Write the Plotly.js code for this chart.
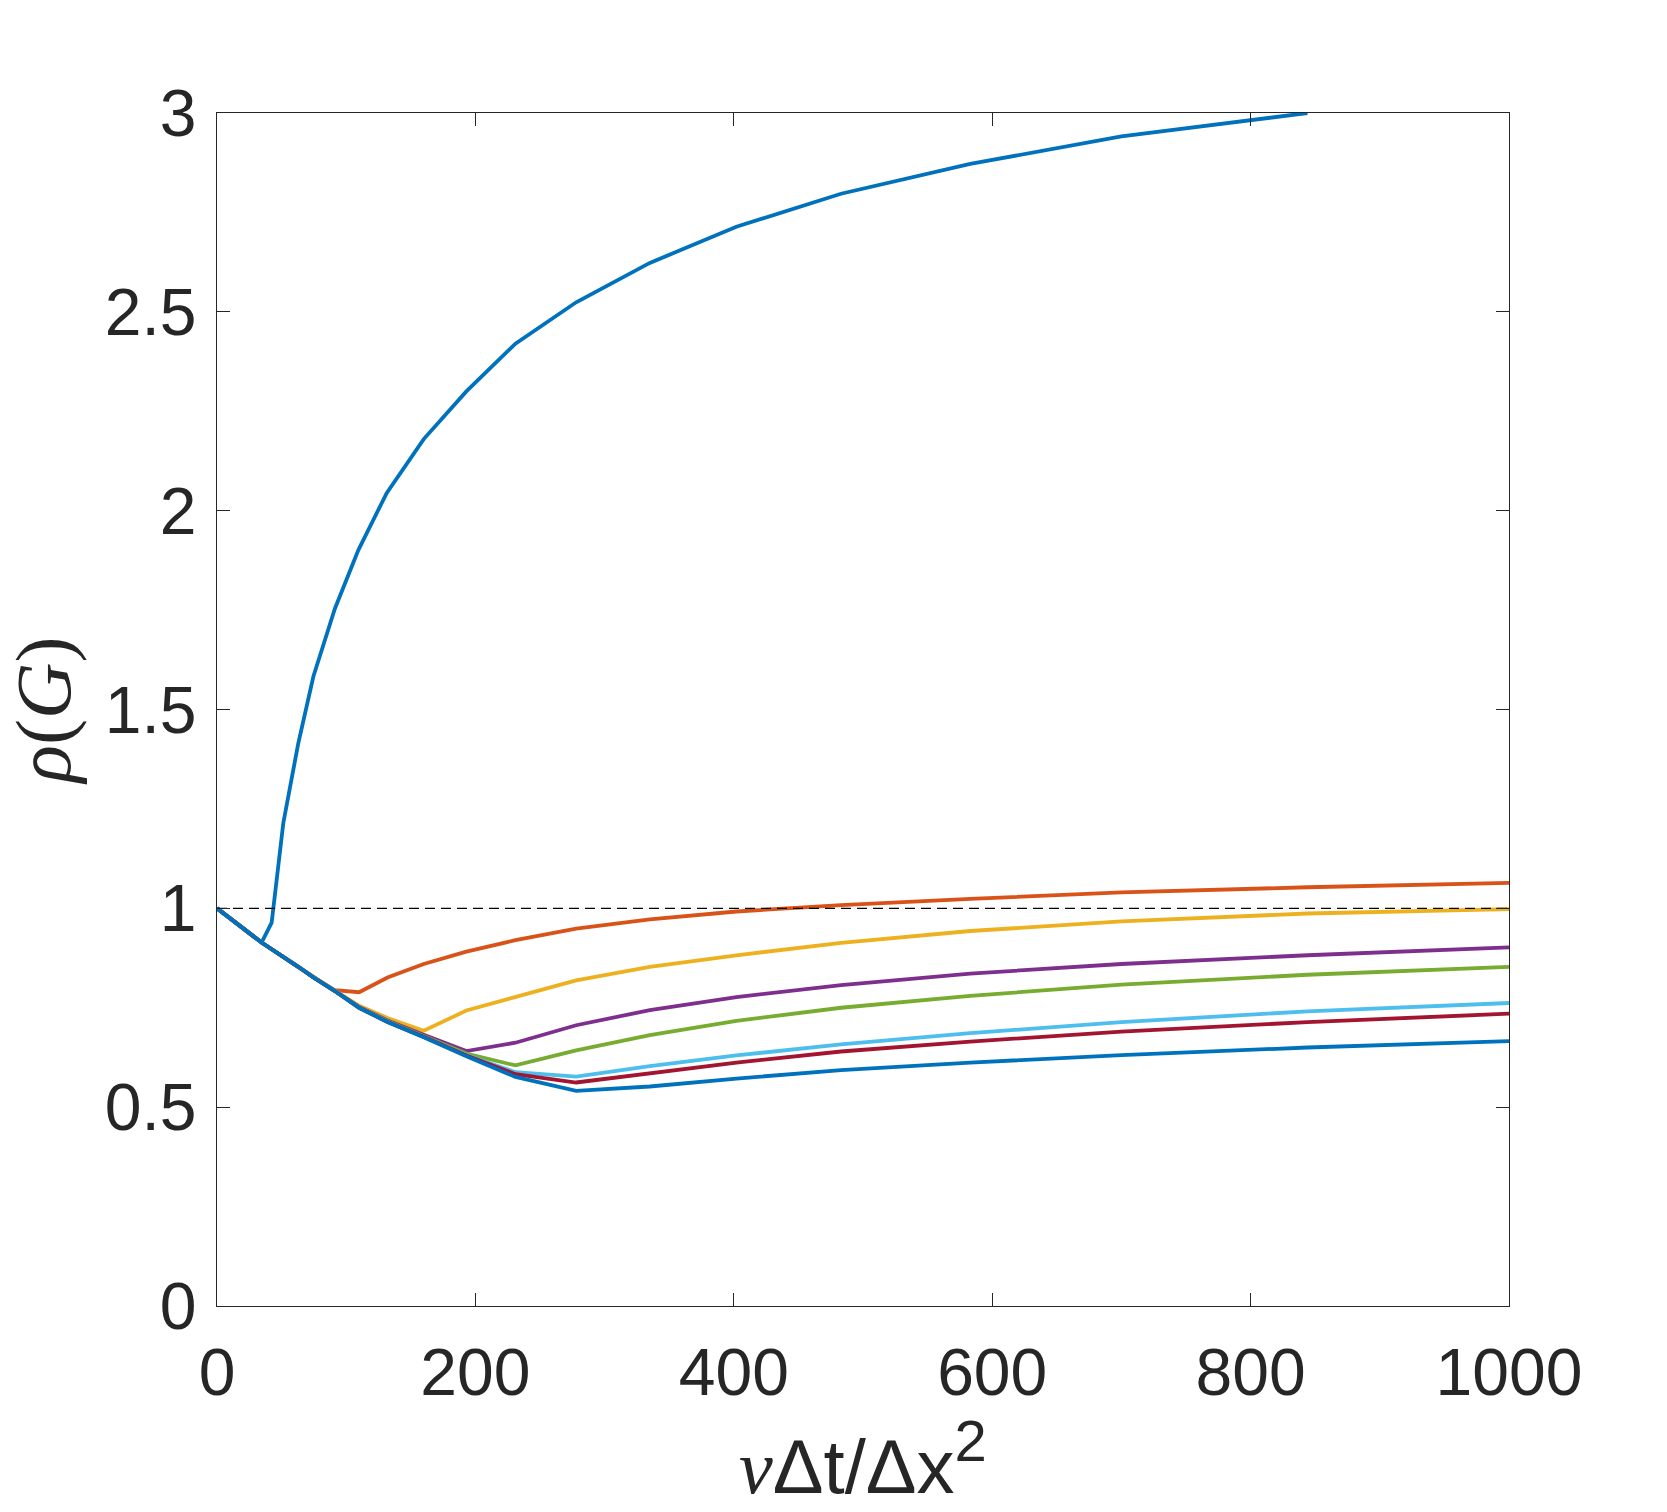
<!DOCTYPE html>
<html>
<head>
<meta charset="utf-8">
<script src="https://cdn.plot.ly/plotly-3.0.1.min.js"></script>
<style>html,body{margin:0;padding:0;background:#fff;}#chart{width:1667px;height:1512px;}</style>
</head>
<body>
<div id="chart"></div>
<script>
// ---- data ----
const xTop = [0, 34.5, 42.3, 51.3, 62.9, 74.6, 91.3, 109.4, 131.3, 160, 193, 231, 278, 335, 402, 483, 583, 700, 844];
const yTop = [1, 0.914, 0.964, 1.214, 1.415, 1.583, 1.754, 1.901, 2.044, 2.18, 2.30, 2.42, 2.524, 2.623, 2.714, 2.797, 2.872, 2.941, 3.0];

const xGrid = [0, 34.5, 62.9, 74.6, 91.3, 110, 132, 160, 193, 231, 278, 335, 402, 483, 583, 700, 844, 1000];

const yOrange = [1, 0.914, 0.853, 0.827, 0.794, 0.789, 0.826, 0.860, 0.891, 0.920, 0.949, 0.972, 0.992, 1.008, 1.024, 1.040, 1.053, 1.064];
const yYellow = [1, 0.914, 0.853, 0.827, 0.793, 0.755, 0.724, 0.692, 0.743, 0.777, 0.819, 0.853, 0.882, 0.913, 0.943, 0.967, 0.987, 0.998];
const yPurple = [1, 0.914, 0.853, 0.827, 0.792, 0.752, 0.718, 0.682, 0.641, 0.662, 0.706, 0.744, 0.777, 0.807, 0.836, 0.860, 0.882, 0.902];
const yGreen  = [1, 0.914, 0.853, 0.827, 0.792, 0.751, 0.716, 0.679, 0.635, 0.605, 0.643, 0.681, 0.717, 0.750, 0.780, 0.808, 0.833, 0.853];
const yLightB = [1, 0.914, 0.853, 0.826, 0.792, 0.750, 0.715, 0.677, 0.631, 0.588, 0.577, 0.603, 0.630, 0.658, 0.686, 0.714, 0.741, 0.762];
const yDarkR  = [1, 0.914, 0.853, 0.826, 0.792, 0.750, 0.714, 0.677, 0.630, 0.583, 0.562, 0.585, 0.612, 0.640, 0.665, 0.690, 0.714, 0.735];
const yBottom = [1, 0.914, 0.853, 0.826, 0.792, 0.750, 0.714, 0.676, 0.628, 0.576, 0.541, 0.552, 0.572, 0.593, 0.612, 0.631, 0.650, 0.666];

const xRef = [0, 1000];
const yRef = [1, 1];

const xTicks = [0, 200, 400, 600, 800, 1000];
const yTicks = [0, 0.5, 1, 1.5, 2, 2.5, 3];
const yTickText = ['0', '0.5', '1', '1.5', '2', '2.5', '3'];

const colors = ['#0072BD', '#D95319', '#EDB120', '#7E2F8E', '#77AC30', '#4DBEEE', '#A2142F', '#0072BD'];
// --------------------------------------

const ys = [yOrange, yYellow, yPurple, yGreen, yLightB, yDarkR, yBottom];
const traces = [{x: xTop, y: yTop, mode: 'lines', line: {color: colors[0], width: 3.8}, hoverinfo: 'skip'}];
ys.forEach((yv, i) => traces.push({x: xGrid, y: yv, mode: 'lines', line: {color: colors[i + 1], width: 3.8}, hoverinfo: 'skip'}));
traces.push({x: xRef, y: yRef, mode: 'lines', line: {color: '#000000', width: 1.3, dash: '10px,6px'}, hoverinfo: 'skip'});

const axisCommon = {
  showgrid: false, zeroline: false, showline: true, mirror: 'ticks',
  linecolor: '#262626', linewidth: 1.3,
  ticks: 'inside', ticklen: 13, tickwidth: 1.3, tickcolor: '#262626',
  tickfont: {family: 'Liberation Sans, Arial, sans-serif', size: 66, color: '#262626'}
};

const layout = {
  width: 1667, height: 1512,
  margin: {l: 217, r: 158, t: 113, b: 206},
  paper_bgcolor: '#ffffff', plot_bgcolor: '#ffffff',
  showlegend: false,
  xaxis: Object.assign({}, axisCommon, {
    range: [0, 1000], tickvals: xTicks, ticktext: xTicks.map(String),
    ticklabelstandoff: 8,
    title: {text: '<span style="font-family:Liberation Serif;font-style:italic">ν</span>Δt/Δx<sup><span style="font-size:58px">2</span></sup>',
            font: {family: 'Liberation Sans, Arial, sans-serif', size: 76, color: '#262626'}, standoff: 32}
  }),
  yaxis: Object.assign({}, axisCommon, {
    range: [0, 3], tickvals: yTicks, ticktext: yTickText,
    ticklabelstandoff: 6,
    title: {text: '<i>ρ</i>(<i>G</i>)',
            font: {family: 'Liberation Serif, Times New Roman, serif', size: 78, color: '#262626'}, standoff: 16}
  })
};

Plotly.newPlot('chart', traces, layout, {displayModeBar: false, staticPlot: true});
</script>
</body>
</html>
